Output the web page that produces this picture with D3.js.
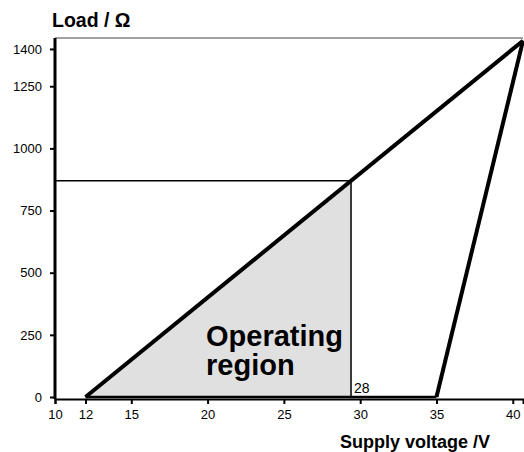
<!DOCTYPE html>
<html>
<head>
<meta charset="utf-8">
<script src="https://cdn.jsdelivr.net/npm/d3@7"></script>
<style>
  body { margin: 0; background: #fff; }
  svg { display: block; }
  text { font-family: "Liberation Sans", Arial, sans-serif; }
</style>
</head>
<body>
<div id="chart"></div>
<script>
// Axis ticks
const voltageTicks = [10, 12, 15, 20, 25, 30, 35, 40];
const loadTicks = [0, 250, 500, 750, 1000, 1250, 1400];

// Max load line: starts at 12 V, rises 50 ohm per volt
const maxLoadV = [12, 40.67];
const maxLoadR = [0, 1433];

// Right boundary line
const rightV = [35, 40.67];
const rightR = [0, 1433];

// Bottom boundary (load = 0)
const baseV = [12, 35];
const baseR = [0, 0];

// Operating point marked on the chart
const opV = 29.4;
const opR = 870;
const opLabel = '28';

const width = 524, height = 452;
const margin = { top: 38, right: 1, bottom: 55, left: 55 };

const svg = d3.select('#chart')
    .append('svg')
    .attr('width', width)
    .attr('height', height);

const x = d3.scaleLinear()
    .domain([10, 40.67])
    .range([margin.left, width - margin.right]);

const y = d3.scaleLinear()
    .domain([0, 1444])
    .range([397, margin.top]);

const line = d3.line()
    .x(d => x(d[0]))
    .y(d => y(d[1]));

// Operating region fill
const region = [[maxLoadV[0], 0], [opV, opR], [opV, 0]];
svg.append('path')
    .attr('d', line(region) + 'Z')
    .attr('fill', '#e0e0e0');

// Top frame line
svg.append('line')
    .attr('x1', x(10)).attr('x2', x(40.67))
    .attr('y1', y(1444)).attr('y2', y(1444))
    .attr('stroke', '#444')
    .attr('stroke-width', 1.2);

// Operating point guides
svg.append('path')
    .attr('d', line([[10, opR], [opV, opR], [opV, 0]]))
    .attr('fill', 'none')
    .attr('stroke', '#000')
    .attr('stroke-width', 1.5);

// Boundary lines
const zip = (a, b) => a.map((v, i) => [v, b[i]]);
[zip(maxLoadV, maxLoadR), zip(rightV, rightR)].forEach(pts => {
    svg.append('path')
        .attr('d', line(pts))
        .attr('fill', 'none')
        .attr('stroke', '#000')
        .attr('stroke-width', 4);
});
svg.append('path')
    .attr('d', line(zip(baseV, baseR)))
    .attr('fill', 'none')
    .attr('stroke', '#000')
    .attr('stroke-width', 2.5);

// Axes
const fontFam = '"Liberation Sans", Arial, sans-serif';
const xAxis = svg.append('g')
    .attr('transform', `translate(0,399)`)
    .call(d3.axisBottom(x).tickValues(voltageTicks).tickFormat(d3.format('d')).tickSize(5).tickPadding(6));
xAxis.attr('font-family', fontFam).attr('font-size', 13);
xAxis.select('.domain').attr('stroke-width', 2);
xAxis.selectAll('.tick line').attr('stroke-width', 2);

const yAxis = svg.append('g')
    .attr('transform', `translate(${margin.left},0)`)
    .call(d3.axisLeft(y).tickValues(loadTicks).tickFormat(d3.format('d')).tickSize(5).tickPadding(8));
yAxis.attr('font-family', fontFam).attr('font-size', 13);
yAxis.select('.domain')
    .attr('d', `M0,${y(1444)}V399`)
    .attr('stroke-width', 3);
yAxis.selectAll('.tick line').attr('stroke-width', 2);

// Labels
svg.append('text')
    .attr('x', 52).attr('y', 27)
    .attr('font-size', '19.5px')
    .attr('font-weight', 'bold')
    .text('Load / Ω');

svg.append('text')
    .attr('x', 490).attr('y', 448)
    .attr('text-anchor', 'end')
    .attr('font-size', '18px')
    .attr('font-weight', 'bold')
    .text('Supply voltage /V');

svg.append('text')
    .attr('x', x(opV) + 3).attr('y', 393)
    .attr('font-size', '14px')
    .text(opLabel);

const regionText = svg.append('text')
    .attr('font-size', '29px')
    .attr('font-weight', 'bold');
regionText.append('tspan').attr('x', 206).attr('y', 346).text('Operating');
regionText.append('tspan').attr('x', 206).attr('y', 375).text('region');
</script>
</body>
</html>
